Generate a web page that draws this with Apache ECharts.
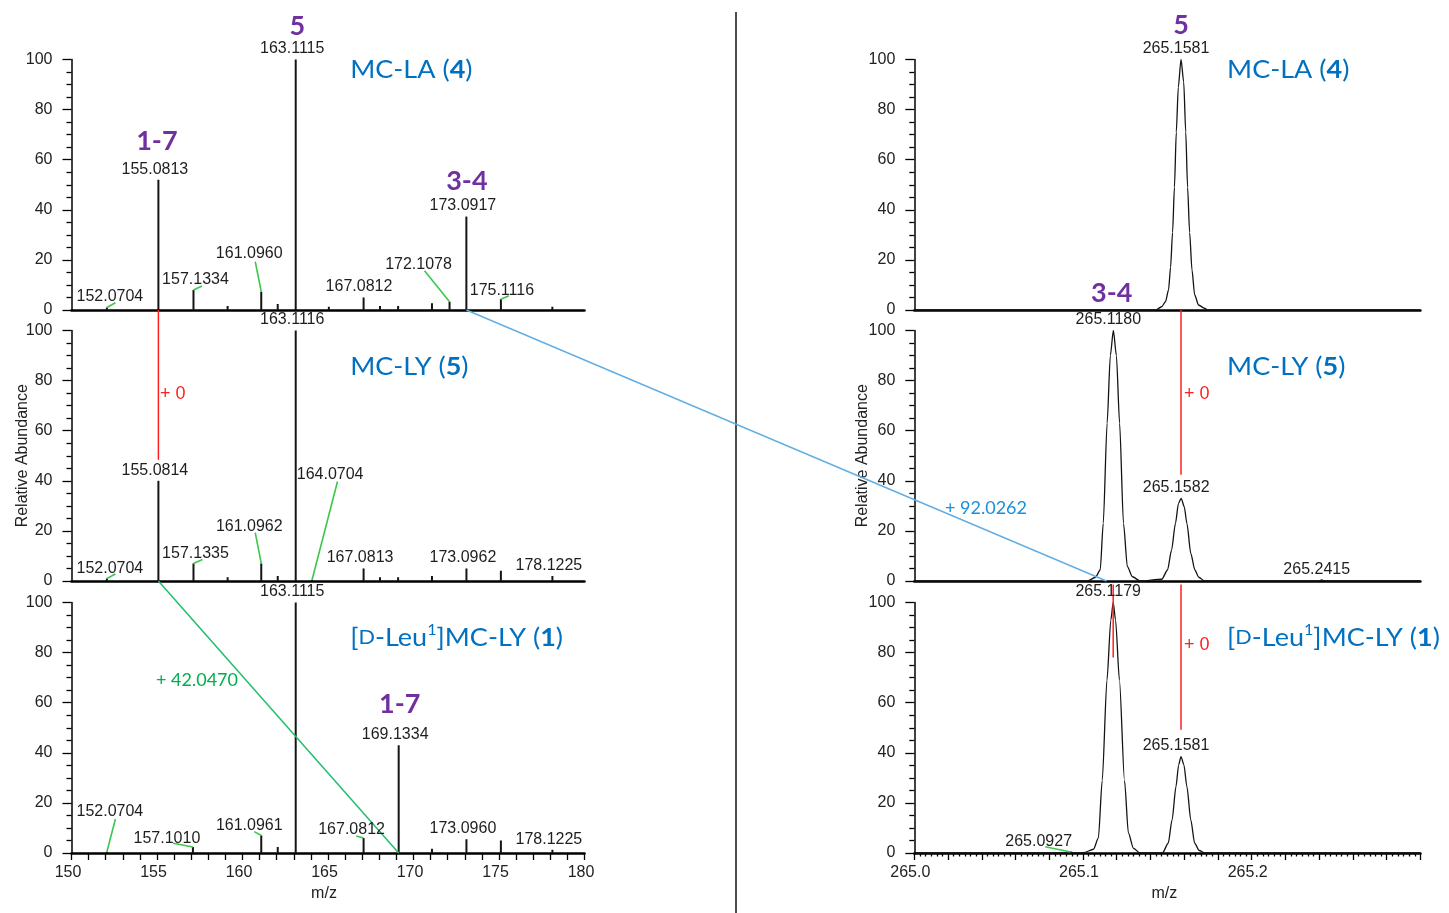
<!DOCTYPE html>
<html>
<head>
<meta charset="utf-8">
<title>MS/MS fragment comparison</title>
<script src="https://cdn.jsdelivr.net/npm/echarts@6/dist/echarts.min.js"></script>
<style>
  html, body { margin: 0; padding: 0; background: #fff; }
  #chart { width: 1449px; height: 913px; }
</style>
</head>
<body>
<div id="chart"></div>
<script>
// ---------------- data ----------------
// Centroid product ions, m/z 150–180, relative abundance (%)
// MC-LA (4)
const laLabeledMz = [152.0704, 155.0813, 157.1334, 161.0960, 163.1115, 167.0812, 172.1078, 173.0917, 175.1116];
const laLabeledAb = [1.0, 52, 8, 7.3, 100, 5, 3.3, 37.3, 4.3];
const laMinorMz = [159.13, 162.06, 165.05, 168.04, 169.10, 171.08, 178.12];
const laMinorAb = [1.6, 2.4, 1.3, 1.6, 1.6, 2.7, 1.3];

// MC-LY (5)
const lyLabeledMz = [152.0704, 155.0814, 157.1335, 161.0962, 163.1116, 164.0704, 167.0813, 173.0962, 178.1225];
const lyLabeledAb = [1.0, 40, 7, 7, 100, 0.5, 5, 5, 2];
const lyMinorMz = [159.13, 162.06, 168.04, 169.10, 171.08, 175.11];
const lyMinorAb = [1.5, 2, 1.5, 1.5, 2, 4.1];

// [D-Leu1]MC-LY (1)
const leuLabeledMz = [152.0704, 157.1010, 161.0961, 163.1115, 167.0812, 169.1334, 173.0960, 178.1225];
const leuLabeledAb = [0.5, 2.4, 7, 100, 6, 43, 5.5, 1.3];
const leuMinorMz = [162.06, 171.08, 175.11];
const leuMinorAb = [2.4, 1.7, 5];

// Profile spectra around m/z 265 — labelled apexes
const laApexMz = [265.1581];
const laApexAb = [100];
const lyApexMz = [265.1180, 265.1582, 265.2415];
const lyApexAb = [100, 33, 0.4];
const leuApexMz = [265.0927, 265.1179, 265.1581];
const leuApexAb = [0.4, 100, 38.5];

// Profile traces [m/z, relative abundance]
const laProfile = [
  [265.0000, 0], [265.1431, 0], [265.1466, 1.3], [265.1489, 3.3], [265.1507, 8], [265.1519, 17],
  [265.1531, 31], [265.1542, 49], [265.1553, 71], [265.1565, 89], [265.1581, 100], [265.1597, 91],
  [265.1609, 71], [265.1620, 49], [265.1632, 31], [265.1646, 16], [265.1662, 6], [265.1685, 2],
  [265.1720, 0.7], [265.1738, 0], [265.3000, 0]
];
const lyProfile = [
  [265.0000, 0], [265.1028, 0], [265.1074, 1.5], [265.1102, 4.4], [265.1120, 23], [265.1143, 63],
  [265.1162, 90], [265.1180, 100], [265.1198, 90], [265.1217, 63], [265.1240, 23], [265.1263, 5.7],
  [265.1293, 1.7], [265.1339, 0],
  [265.1467, 0.7], [265.1501, 4.4], [265.1525, 12.4], [265.1548, 23], [265.1566, 31], [265.1582, 33],
  [265.1600, 29.7], [265.1616, 23], [265.1639, 11], [265.1663, 4.4], [265.1686, 1.5], [265.1721, 0],
  [265.2395, 0], [265.2415, 0.4], [265.2435, 0], [265.3000, 0]
];
const leuProfile = [
  [265.0000, 0], [265.0907, 0], [265.0927, 0.4], [265.0947, 0],
  [265.1004, 0.1], [265.1062, 1.5], [265.1091, 5.9], [265.1114, 29], [265.1142, 69], [265.1165, 93],
  [265.1179, 100], [265.1193, 93], [265.1216, 69], [265.1246, 29], [265.1269, 8], [265.1299, 1.9],
  [265.1338, 0],
  [265.1471, 0], [265.1505, 3.9], [265.1528, 13.2], [265.1551, 26.5], [265.1567, 35.2], [265.1581, 38.5],
  [265.1598, 35.2], [265.1616, 26.5], [265.1639, 13.2], [265.1662, 3.9], [265.1689, 1], [265.1724, 0],
  [265.3000, 0]
];

// Fragment assignments drawn above peaks
const tagGrid = [0, 0, 0, 2, 3, 4];
const tagMz = [163.1115, 155.0813, 173.0917, 169.1334, 265.1581, 265.1180];
const tagText = ['5', '1-7', '3-4', '1-7', '5', '3-4'];

// ---------------- layout & style ----------------
const NUM_FONT = '"Liberation Sans", Arial, sans-serif';
const NAME_FONT = 'Lato, "Open Sans", sans-serif';
const COL = {
  ink: '#141414', axisText: '#222', red: '#ff1f1f', blue: '#0070C0',
  link: '#62aee3', linkText: '#1a90d8', green: '#00b050', greenLine: '#1fbf6f',
  leader: '#3cc64d', purple: '#7030A0'
};
const colLeft = [71.5, 914.3];
const colWidth = [513, 506.1];
const rowTop = [59.5, 330.5, 602.5];
const rowHeight = 250.5;

// text centre offset from a peak apex in px, optional leader-line end [lx, ly]
const labelShift = {
  '0:152.0704': [3, -10.5, 8.5, -4.8],
  '0:157.1334': [2, -10, 8.5, -4],
  '0:161.0960': [-12, -37.7, -6, -30],
  '0:167.0812': [-4.6, -10.8],
  '0:172.1078': [-31, -36.7, -25, -31],
  '0:175.1116': [1, -9, 8, -3.5],
  '1:152.0704': [3, -10.2, 8.5, -4.5],
  '1:157.1335': [2, -9.5, 9, -4],
  '1:161.0962': [-12, -36.8, -6, -30.8],
  '1:164.0704': [18, -105, 25.4, -98.3],
  '2:152.0704': [3, -40.3, 8.5, -32.7],
  '2:157.1010': [-26, -8.7, -20, -3.7],
  '2:161.0961': [-12, -9.5, -7, -3.8],
  '2:167.0812': [-12, -8.7, -7.4, -2],
  '5:265.0927': [-32, -10, -25.5, -5.3]
};
const defaultShift = [[-3.5, -10.5], [-5, -10.5]];
const tagShift = [[1.5, -33.3], [-1.5, -38.3], [0.5, -35], [1, -40.5], [0, -34], [-1.7, -37]];

const stickSets = [
  [laLabeledMz.concat(laMinorMz), laLabeledAb.concat(laMinorAb)],
  [lyLabeledMz.concat(lyMinorMz), lyLabeledAb.concat(lyMinorAb)],
  [leuLabeledMz.concat(leuMinorMz), leuLabeledAb.concat(leuMinorAb)]
];
const labelSets = [
  [laLabeledMz, laLabeledAb], [lyLabeledMz, lyLabeledAb], [leuLabeledMz, leuLabeledAb],
  [laApexMz, laApexAb], [lyApexMz, lyApexAb], [leuApexMz, leuApexAb]
];
const profiles = [laProfile, lyProfile, leuProfile];

// ---------------- option ----------------
const grids = [], xAxes = [], yAxes = [], series = [];
for (let g = 0; g < 6; g++) {
  const col = g < 3 ? 0 : 1;
  const row = g % 3;
  const bottom = row === 2;
  grids.push({ left: colLeft[col], top: rowTop[row], width: colWidth[col], height: rowHeight });

  const tickStyle = { color: '#000', width: 1.3 };
  if (col === 0) {
    xAxes.push({
      gridIndex: g, type: 'value', min: 150, max: 180, interval: 5,
      axisLine: { onZero: false, lineStyle: { color: '#000', width: 2.6 } },
      axisTick: { show: bottom, length: 7, lineStyle: tickStyle },
      minorTick: { show: bottom, splitNumber: 5, length: 7, lineStyle: tickStyle },
      splitLine: { show: false }, minorSplitLine: { show: false },
      axisLabel: { show: bottom, fontSize: 16, fontFamily: NUM_FONT, color: COL.axisText, margin: 12, padding: [0, 7, 0, 0] },
      name: bottom ? 'm/z' : '', nameLocation: 'middle', nameGap: 33, nameMoveOverlap: false,
      nameTextStyle: { fontSize: 16, fontFamily: NUM_FONT, color: COL.axisText, padding: [0, 8, 0, 0] }
    });
  } else {
    xAxes.push({
      gridIndex: g, type: 'value', min: 265.0, max: 265.3, interval: 0.02,
      axisLine: { onZero: false, lineStyle: { color: '#000', width: 2.6 } },
      axisTick: { show: bottom, length: 7, lineStyle: tickStyle },
      minorTick: { show: bottom, splitNumber: 6, length: 3.5, lineStyle: tickStyle },
      splitLine: { show: false }, minorSplitLine: { show: false },
      axisLabel: {
        show: bottom, fontSize: 16, fontFamily: NUM_FONT, color: COL.axisText, margin: 12, padding: [0, 8, 0, 0],
        formatter: v => (Math.abs(v * 10 - Math.round(v * 10)) < 1e-6 && v < 265.25) ? v.toFixed(1) : ''
      },
      name: bottom ? 'm/z' : '', nameLocation: 'middle', nameGap: 33, nameMoveOverlap: false,
      nameTextStyle: { fontSize: 16, fontFamily: NUM_FONT, color: COL.axisText, padding: [0, 6, 0, 0] }
    });
  }

  yAxes.push({
    gridIndex: g, type: 'value', min: 0, max: 100, interval: 20,
    axisLine: { show: true, lineStyle: { color: '#000', width: 1.5 } },
    axisTick: { show: true, length: 9, lineStyle: tickStyle },
    minorTick: { show: true, splitNumber: 4, length: 5, lineStyle: tickStyle },
    splitLine: { show: false }, minorSplitLine: { show: false },
    axisLabel: { fontSize: 16, fontFamily: NUM_FONT, color: COL.axisText, margin: 19 },
    name: row === 1 ? 'Relative Abundance' : '', nameLocation: 'middle', nameRotate: 90,
    nameGap: col === 0 ? 41 : 44, nameMoveOverlap: false,
    nameTextStyle: { fontSize: 16, fontFamily: NUM_FONT, color: COL.axisText }
  });

  if (col === 0) {
    const [mz, ab] = stickSets[row];
    series.push({
      type: 'custom', xAxisIndex: g, yAxisIndex: g,
      data: mz.map((m, i) => [m, ab[i]]),
      renderItem: (params, api) => {
        const x = api.value(0), y = api.value(1);
        const top = api.coord([x, y]);
        const base = api.coord([x, 0]);
        return {
          type: 'line',
          shape: { x1: base[0], y1: base[1], x2: top[0], y2: top[1] },
          style: { stroke: COL.ink, lineWidth: 2 }
        };
      }
    });
  } else {
    series.push({
      type: 'line', xAxisIndex: g, yAxisIndex: g,
      data: profiles[row], showSymbol: false, symbol: 'none',
      smooth: 0.25, smoothMonotone: 'x',
      lineStyle: { color: COL.ink, width: 1.3 }
    });
  }
}

const chart = echarts.init(document.getElementById('chart'));
chart.setOption({
  animation: false,
  backgroundColor: '#fff',
  grid: grids, xAxis: xAxes, yAxis: yAxes, series
});

// ---------------- annotations ----------------
const toPx = (g, x, y) => chart.convertToPixel({ gridIndex: g }, [x, y]);
const els = [];
function addLine(a, b, color, w) {
  els.push({ type: 'line', z: 50, silent: true,
    shape: { x1: a[0], y1: a[1], x2: b[0], y2: b[1] }, style: { stroke: color, lineWidth: w } });
}
function addText(x, y, text, font, fill, align) {
  const al = align || 'center';
  els.push({ type: 'text', z: 60, silent: true, x, y,
    style: { text, font, fill, textFill: fill, align: al, textAlign: al, verticalAlign: 'middle', textVerticalAlign: 'middle' } });
}

// peak m/z labels with leader lines where the text is moved away
labelSets.forEach(([mzs, abs], g) => {
  const side = g < 3 ? 0 : 1;
  mzs.forEach((mz, i) => {
    const txt = mz.toFixed(4);
    const s = labelShift[g + ':' + txt] || defaultShift[side];
    const p = toPx(g, mz, abs[i]);
    if (s.length > 2) addLine(p, [p[0] + s[2], p[1] + s[3]], COL.leader, 1.6);
    addText(p[0] + s[0], p[1] + s[1], txt, '16px ' + NUM_FONT, '#1e1e1e');
  });
});

// fragment numbers
tagMz.forEach((mz, i) => {
  const g = tagGrid[i];
  const [mzs, abs] = labelSets[g];
  const k = mzs.indexOf(mz);
  const p = toPx(g, mz, abs[k]);
  addText(p[0] + tagShift[i][0], p[1] + tagShift[i][1], tagText[i], 'bold 27px ' + NAME_FONT, COL.purple);
});

// compound names
const nameRich = {
  n: { fontSize: 25, fontFamily: NAME_FONT, fill: COL.blue, lineHeight: 30 },
  b: { fontSize: 25, fontFamily: NAME_FONT, fontWeight: 'bold', fill: COL.blue, lineHeight: 30 },
  sc: { fontSize: 20, fontFamily: NAME_FONT, fill: COL.blue, lineHeight: 30 },
  sup: { fontSize: 15, fontFamily: NAME_FONT, fill: COL.blue, lineHeight: 19, verticalAlign: 'top' }
};
const names = [
  '{n|MC-LA (}{b|4}{n|)}',
  '{n|MC-LY (}{b|5}{n|)}',
  '{n|[}{sc|D}{n|-Leu}{sup|1}{n|]MC-LY (}{b|1}{n|)}'
];
const nameAnchorX = [166.3, 265.1854];
const nameAnchorY = [96, 85.6, 86];
for (let g = 0; g < 6; g++) {
  const col = g < 3 ? 0 : 1, row = g % 3;
  const p = toPx(g, nameAnchorX[col], nameAnchorY[row]);
  els.push({ type: 'text', z: 60, silent: true, x: p[0], y: p[1], scaleX: 1.08,
    style: { text: names[row], rich: nameRich, align: 'left', textAlign: 'left', verticalAlign: 'middle', textVerticalAlign: 'middle' } });
}

// mass-shift connectors between panels
const redLinks = [
  [[0, 155.0813, 0], [1, 155.0813, 48.4]],
  [[3, 265.1581, 0], [4, 265.1581, 42.4]],
  [[5, 265.1581, 107.2], [5, 265.1581, 49.2]],
  [[5, 265.1179, 107.2], [5, 265.1179, 78]]
];
redLinks.forEach(([a, b]) => addLine(toPx(a[0], a[1], a[2]), toPx(b[0], b[1], b[2]), COL.red, 1.5));
[[1, 155.0813, 74.7, 1.5], [4, 265.1581, 74.7, 3], [5, 265.1581, 83.2, 3]].forEach(([g, x, y, d]) => {
  const p = toPx(g, x, y);
  addText(p[0] + d, p[1], '+ 0', '18px ' + NUM_FONT, COL.red, 'left');
});

addLine(toPx(0, 173.0917, 0), toPx(4, 265.1139, 0), COL.link, 1.4);
let q = toPx(4, 265.0425, 29.1);
addText(q[0], q[1], '+ 92.0262', '18px ' + NAME_FONT, COL.linkText);

addLine(toPx(1, 155.0814, 0), toPx(2, 169.1334, 0), COL.greenLine, 1.5);
q = toPx(2, 157.34, 68.8);
addText(q[0], q[1], '+ 42.0470', '18px ' + NAME_FONT, COL.green);

// column separator
els.push({ type: 'line', z: 40, silent: true, shape: { x1: 736, y1: 12, x2: 736, y2: 913 }, style: { stroke: '#111', lineWidth: 1.5 } });

chart.setOption({ graphic: { elements: els } });
</script>
</body>
</html>
